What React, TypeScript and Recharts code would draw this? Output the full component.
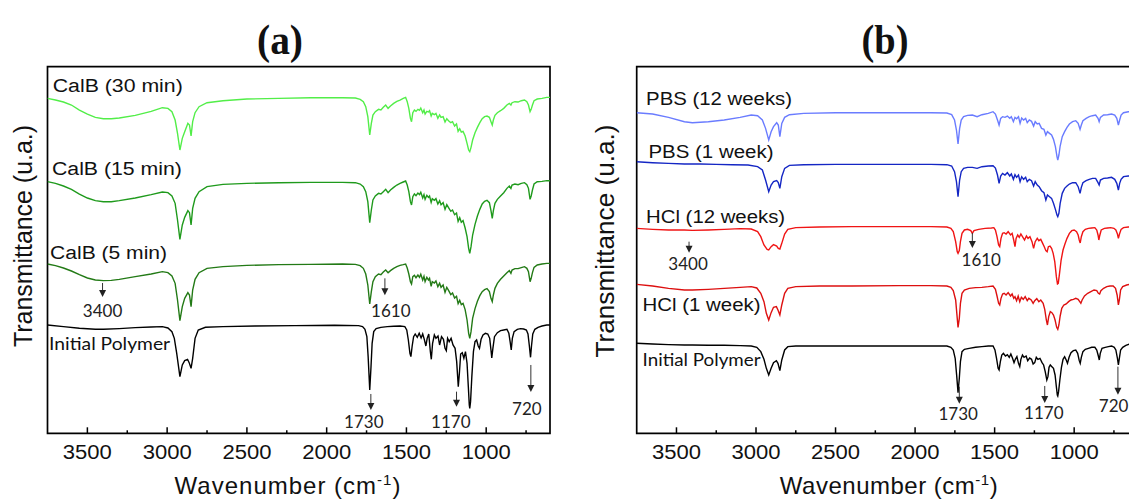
import React from "react";
import { LineChart, Line, XAxis, YAxis, ReferenceArea, ReferenceDot } from "recharts";

type Pt = [number, number];

// ---------- DATA (wavenumber cm-1, transmittance in arbitrary stacked units) ----------
const calb30: Pt[] = [[3750,1005],[3700,1000],[3650,994],[3600,985],[3550,970],[3500,958],[3450,948],[3400,944],[3350,944],[3300,946],[3200,954],[3100,966],[3030,977],[2995,975],[2970,965],[2950,940],[2935,900],[2920,850],[2905,885],[2890,905],[2870,930],[2860,925],[2850,892],[2840,935],[2825,962],[2800,980],[2750,992],[2650,998],[2500,1003],[2300,1005],[2100,1007],[1900,1007],[1820,1006],[1790,1002],[1770,995],[1755,980],[1742,950],[1730,895],[1720,930],[1710,955],[1695,965],[1675,972],[1660,970],[1645,978],[1630,985],[1615,975],[1600,982],[1580,990],[1560,996],[1540,1000],[1520,1005],[1505,1008],[1495,995],[1485,975],[1475,945],[1468,935],[1460,962],[1450,970],[1440,966],[1428,972],[1418,969],[1410,976],[1398,962],[1390,970],[1383,958],[1372,966],[1362,964],[1355,968],[1345,952],[1338,960],[1325,956],[1315,960],[1303,945],[1292,955],[1283,948],[1270,950],[1258,934],[1247,944],[1236,938],[1222,932],[1211,935],[1198,922],[1186,928],[1176,906],[1166,914],[1156,904],[1145,906],[1132,892],[1120,870],[1110,850],[1103,845],[1095,858],[1085,880],[1070,902],[1055,918],[1040,932],[1025,944],[1010,950],[995,952],[980,948],[970,935],[962,925],[955,940],[945,954],[930,962],[910,968],[890,975],[870,985],[855,990],[845,985],[838,992],[820,995],[800,994],[780,998],[760,1000],[745,995],[735,985],[725,965],[718,972],[710,985],[700,998],[680,1003],[650,1005],[620,1008],[600,1008]];

const calb15: Pt[] = [[3750,755],[3700,750],[3650,742],[3600,732],[3550,718],[3500,706],[3450,698],[3400,695],[3350,695],[3300,698],[3200,706],[3100,716],[3030,724],[2995,722],[2970,712],[2950,690],[2935,640],[2920,582],[2905,625],[2890,648],[2870,668],[2860,662],[2850,625],[2840,675],[2825,705],[2800,725],[2750,740],[2650,747],[2500,750],[2300,752],[2100,753],[1900,753],[1820,752],[1790,748],[1770,740],[1755,725],[1742,695],[1730,632],[1720,670],[1710,700],[1695,712],[1675,720],[1660,718],[1645,725],[1630,732],[1615,722],[1600,730],[1580,738],[1560,745],[1540,750],[1520,754],[1505,757],[1495,745],[1485,725],[1475,695],[1468,685],[1460,710],[1450,718],[1440,713],[1428,721],[1418,716],[1410,723],[1398,706],[1390,716],[1383,702],[1372,714],[1362,708],[1355,712],[1345,693],[1338,704],[1325,699],[1315,704],[1303,688],[1292,698],[1283,686],[1270,692],[1258,672],[1247,686],[1236,677],[1222,666],[1211,670],[1198,656],[1186,661],[1176,636],[1166,647],[1156,633],[1145,638],[1132,616],[1120,590],[1110,555],[1103,540],[1095,560],[1085,595],[1070,627],[1055,652],[1040,672],[1025,688],[1010,696],[995,699],[980,692],[970,668],[962,645],[955,668],[945,690],[930,702],[910,712],[890,722],[870,735],[855,742],[845,735],[838,745],[820,748],[800,746],[780,750],[760,752],[745,746],[735,735],[725,702],[718,712],[710,730],[700,748],[680,755],[650,756],[620,758],[600,758]];

const calb5: Pt[] = [[3750,508],[3700,503],[3650,496],[3600,487],[3550,476],[3500,466],[3450,460],[3400,458],[3350,459],[3300,462],[3200,470],[3100,478],[3030,485],[2995,482],[2970,472],[2950,450],[2935,400],[2920,338],[2905,380],[2890,405],[2870,422],[2860,415],[2850,380],[2840,430],[2825,462],[2800,482],[2750,495],[2650,500],[2500,504],[2300,506],[2100,507],[1900,508],[1820,507],[1790,503],[1770,495],[1755,478],[1742,445],[1730,388],[1720,425],[1710,455],[1695,470],[1675,478],[1660,476],[1645,484],[1630,490],[1615,482],[1600,488],[1580,495],[1560,500],[1540,504],[1520,506],[1505,508],[1495,496],[1485,478],[1475,455],[1468,448],[1460,470],[1450,474],[1440,467],[1428,475],[1418,468],[1410,477],[1398,460],[1390,471],[1383,455],[1372,468],[1362,460],[1355,465],[1345,441],[1338,455],[1325,451],[1315,457],[1303,440],[1292,450],[1283,438],[1270,445],[1258,423],[1247,438],[1236,429],[1222,416],[1211,421],[1198,406],[1186,411],[1176,389],[1166,399],[1156,386],[1145,390],[1132,371],[1120,340],[1110,300],[1103,285],[1095,305],[1085,345],[1070,374],[1055,396],[1040,413],[1025,425],[1010,431],[995,434],[980,425],[970,405],[962,395],[955,415],[945,435],[930,450],[910,462],[890,472],[870,482],[855,488],[845,480],[838,490],[820,494],[800,494],[780,497],[760,500],[745,495],[735,485],[725,455],[718,465],[710,482],[700,498],[680,505],[650,508],[620,510],[600,510]];

const initialA: Pt[] = [[3750,325],[3650,320],[3550,315],[3450,312],[3400,312],[3300,314],[3200,317],[3100,319],[3030,320],[2995,316],[2970,305],[2955,285],[2940,240],[2920,170],[2905,205],[2890,218],[2872,222],[2862,212],[2850,195],[2840,225],[2825,285],[2805,310],[2760,318],[2650,320],[2450,322],[2200,323],[1950,324],[1800,323],[1775,320],[1760,312],[1748,290],[1740,230],[1730,130],[1722,200],[1715,270],[1705,305],[1690,314],[1660,318],[1620,320],[1580,321],[1540,322],[1510,320],[1498,310],[1488,280],[1478,240],[1472,230],[1464,262],[1455,290],[1445,298],[1432,288],[1420,300],[1408,286],[1398,298],[1388,282],[1378,262],[1370,285],[1360,298],[1350,245],[1344,222],[1336,270],[1325,295],[1315,285],[1302,292],[1292,265],[1280,290],[1268,282],[1258,255],[1250,248],[1242,285],[1232,275],[1220,285],[1208,265],[1195,255],[1185,215],[1175,140],[1168,180],[1160,238],[1150,242],[1140,225],[1130,245],[1120,210],[1112,140],[1106,85],[1103,75],[1098,95],[1090,170],[1080,245],[1070,275],[1060,280],[1050,262],[1042,255],[1032,282],[1020,295],[1005,300],[990,298],[978,285],[970,250],[965,226],[958,255],[948,290],[930,302],[910,308],[890,310],[870,312],[858,300],[850,275],[843,250],[836,285],[825,305],[805,312],[785,314],[765,313],[748,310],[738,298],[730,265],[722,228],[716,262],[708,298],[695,312],[675,318],[650,322],[620,325],[600,325]];

const pbs12: Pt[] = [[3750,962],[3650,958],[3550,948],[3450,935],[3400,932],[3300,935],[3200,940],[3100,948],[3030,955],[2990,953],[2960,940],[2940,915],[2920,880],[2905,905],[2890,920],[2870,932],[2860,925],[2850,890],[2838,930],[2820,948],[2790,956],[2700,960],[2500,962],[2200,962],[1900,962],[1800,961],[1770,956],[1752,940],[1740,910],[1730,868],[1720,915],[1710,940],[1695,950],[1670,954],[1640,955],[1610,950],[1580,956],[1540,960],[1510,965],[1495,958],[1482,940],[1472,925],[1462,945],[1450,950],[1435,948],[1420,952],[1405,945],[1395,950],[1382,935],[1372,948],[1362,944],[1350,950],[1340,930],[1330,946],[1318,940],[1305,945],[1295,932],[1282,940],[1268,936],[1255,922],[1245,935],[1232,928],[1220,930],[1205,915],[1190,912],[1178,895],[1168,905],[1155,900],[1142,895],[1130,882],[1118,860],[1108,830],[1103,820],[1096,835],[1088,862],[1075,890],[1060,905],[1045,918],[1030,928],[1010,935],[990,938],[975,930],[963,912],[955,925],[945,938],[925,945],[905,950],[885,953],[865,955],[850,945],[843,935],[835,948],[815,955],[790,956],[765,958],[745,955],[732,945],[722,925],[714,940],[705,955],[690,962],[660,965],[630,965],[600,965]];

const pbs1: Pt[] = [[3750,815],[3650,812],[3550,810],[3450,808],[3350,808],[3250,807],[3150,806],[3050,805],[2990,800],[2960,790],[2940,760],[2920,725],[2905,745],[2890,755],[2870,758],[2860,752],[2850,735],[2838,770],[2820,795],[2790,804],[2700,806],[2500,807],[2200,807],[1900,807],[1800,806],[1770,802],[1752,785],[1740,755],[1730,710],[1720,760],[1710,785],[1695,795],[1670,798],[1640,798],[1610,795],[1580,800],[1540,802],[1510,803],[1495,796],[1482,775],[1472,750],[1462,772],[1450,780],[1435,775],[1420,782],[1405,772],[1395,778],[1382,762],[1372,776],[1362,768],[1350,775],[1340,755],[1330,770],[1318,762],[1305,768],[1295,755],[1282,762],[1268,758],[1255,742],[1245,755],[1232,745],[1220,740],[1205,728],[1190,722],[1178,700],[1168,715],[1155,710],[1142,705],[1130,690],[1118,672],[1108,655],[1103,650],[1096,660],[1088,690],[1075,720],[1060,735],[1045,742],[1030,748],[1010,752],[990,752],[975,740],[963,720],[955,738],[945,752],[925,758],[905,762],[885,765],[865,765],[850,752],[843,745],[835,760],[815,765],[790,766],[765,768],[745,762],[732,750],[722,730],[714,750],[705,762],[690,770],[660,772],[630,772],[600,772]];

const hcl12: Pt[] = [[3750,615],[3650,612],[3550,610],[3450,610],[3400,609],[3300,610],[3200,612],[3100,614],[3030,613],[2990,605],[2970,590],[2950,565],[2930,552],[2920,550],[2905,560],[2890,566],[2870,562],[2860,555],[2850,553],[2838,570],[2820,598],[2800,612],[2750,617],[2600,619],[2400,620],[2100,620],[1900,620],[1800,619],[1775,615],[1760,605],[1745,575],[1735,545],[1730,540],[1722,548],[1715,575],[1705,600],[1690,610],[1670,612],[1650,608],[1640,600],[1630,608],[1600,612],[1560,615],[1520,616],[1505,617],[1495,610],[1485,590],[1475,565],[1468,560],[1460,585],[1450,600],[1440,602],[1428,598],[1415,605],[1400,595],[1390,600],[1380,580],[1372,560],[1365,585],[1355,595],[1345,588],[1335,598],[1325,590],[1312,580],[1300,592],[1290,585],[1278,590],[1265,575],[1255,555],[1245,575],[1232,585],[1222,578],[1210,582],[1198,570],[1188,560],[1178,548],[1170,545],[1162,560],[1152,562],[1142,555],[1132,540],[1122,515],[1112,470],[1105,448],[1100,450],[1092,480],[1082,520],[1070,550],[1058,568],[1045,585],[1030,600],[1015,608],[1000,610],[985,605],[975,595],[968,580],[962,571],[955,590],[945,605],[930,612],[910,615],[890,616],[870,617],[858,610],[850,595],[845,580],[840,592],[830,610],[810,615],[790,616],[770,617],[750,615],[738,610],[728,598],[722,585],[715,598],[705,612],[690,617],[660,619],[630,620],[600,620]];

const hcl1: Pt[] = [[3750,447],[3650,442],[3550,435],[3450,430],[3400,430],[3300,432],[3200,435],[3100,438],[3030,440],[2995,436],[2970,420],[2950,395],[2935,360],[2920,340],[2905,362],[2890,378],[2872,380],[2862,370],[2850,355],[2838,385],[2820,420],[2800,435],[2750,440],[2600,442],[2400,442],[2100,443],[1900,443],[1800,442],[1775,438],[1760,428],[1745,400],[1735,345],[1730,318],[1722,345],[1715,390],[1705,420],[1690,430],[1660,435],[1620,437],[1580,438],[1540,440],[1510,442],[1495,432],[1485,412],[1475,390],[1468,385],[1460,405],[1450,418],[1440,420],[1428,415],[1415,422],[1400,412],[1390,418],[1380,405],[1372,410],[1362,398],[1352,412],[1342,395],[1332,408],[1320,402],[1308,410],[1295,398],[1285,405],[1270,400],[1258,390],[1248,398],[1235,404],[1222,395],[1210,400],[1195,390],[1185,372],[1175,340],[1168,325],[1160,350],[1150,365],[1140,362],[1130,355],[1120,340],[1110,318],[1103,312],[1096,325],[1088,352],[1078,375],[1065,385],[1050,388],[1035,395],[1020,400],[1005,402],[990,405],[975,402],[965,395],[958,390],[950,400],[935,412],[915,420],[895,425],[875,430],[858,428],[848,420],[840,418],[832,428],[815,435],[795,440],[775,442],[755,442],[740,435],[730,415],[722,385],[716,400],[708,430],[695,440],[670,445],[640,448],[600,450]];

const initialB: Pt[] = [[3750,270],[3650,268],[3550,266],[3450,265],[3400,265],[3300,264],[3200,264],[3100,263],[3030,262],[2995,258],[2970,245],[2950,222],[2935,195],[2920,175],[2905,195],[2890,212],[2872,218],[2862,210],[2850,188],[2838,220],[2820,250],[2800,260],[2750,262],[2600,262],[2400,262],[2100,262],[1900,262],[1800,262],[1775,258],[1760,250],[1748,225],[1738,170],[1730,122],[1722,165],[1715,215],[1705,245],[1690,252],[1660,255],[1620,258],[1580,260],[1540,262],[1510,262],[1498,250],[1488,225],[1478,195],[1472,190],[1464,215],[1455,235],[1445,240],[1432,232],[1420,236],[1408,228],[1398,238],[1388,226],[1378,212],[1370,222],[1360,230],[1350,210],[1342,200],[1335,222],[1325,235],[1315,228],[1302,232],[1292,218],[1280,226],[1268,222],[1258,208],[1248,212],[1238,228],[1228,222],[1215,225],[1202,212],[1192,205],[1182,185],[1172,160],[1165,170],[1158,198],[1150,205],[1140,200],[1130,195],[1120,175],[1112,140],[1106,115],[1103,112],[1098,125],[1090,160],[1080,198],[1070,222],[1060,230],[1050,220],[1042,210],[1032,228],[1020,242],[1005,248],[990,250],[978,240],[968,218],[962,210],[955,228],[945,245],[930,252],[910,255],[890,258],[870,258],[858,250],[848,232],[842,220],[836,240],[825,255],[805,258],[785,260],[765,262],[748,258],[738,250],[728,225],[722,205],[716,225],[708,250],[695,258],[675,264],[650,268],[620,270],[600,270]];

const majorTicks = [3500, 3000, 2500, 2000, 1500, 1000];
const minorTicks = [3250, 2750, 2250, 1750, 1250, 750];

// series labels: text, anchor wavenumber, vertical centre (data units)
const labelsA = [
  { text: "CalB (30 min)", wn: 3717, v: 1042, len: 130 },
  { text: "CalB (15 min)", wn: 3722, v: 793, len: 130 },
  { text: "CalB (5 min)", wn: 3734, v: 542, len: 117 },
  { text: "Initial Polymer", wn: 3740, v: 268, len: 121, alt: true },
];
const labelsB = [
  { text: "PBS (12 weeks)", wn: 3691, v: 1002, len: 146 },
  { text: "PBS (1 week)", wn: 3676, v: 845, len: 125 },
  { text: "HCl (12 weeks)", wn: 3691, v: 650, len: 139 },
  { text: "HCl (1 week)", wn: 3713, v: 385, len: 118 },
  { text: "Initial Polymer", wn: 3713, v: 220, len: 118, alt: true },
];

// peak arrows: wavenumber, top of arrow (data units), length in px
const arrowsA = [
  { wn: 3405, v: 451, len: 14 },
  { wn: 1635, v: 465, len: 17 },
  { wn: 1723, v: 118, len: 16 },
  { wn: 1186, v: 125, len: 15 },
  { wn: 720, v: 205, len: 27 },
];
const peaksA = [
  { text: "3400", wn: 3405, v: 367 },
  { text: "1610", wn: 1598, v: 368 },
  { text: "1730", wn: 1767, v: 35 },
  { text: "1170", wn: 1222, v: 35 },
  { text: "720", wn: 745, v: 75 },
];
const arrowsB = [
  { wn: 3421, v: 575, len: 11 },
  { wn: 1640, v: 601, len: 15 },
  { wn: 1722, v: 140, len: 17 },
  { wn: 1185, v: 142, len: 17 },
  { wn: 725, v: 200, len: 28 },
];
const peaksB = [
  { text: "3400", wn: 3427, v: 508 },
  { text: "1610", wn: 1584, v: 522 },
  { text: "1730", wn: 1729, v: 60 },
  { text: "1170", wn: 1191, v: 61 },
  { text: "720", wn: 752, v: 82 },
];

const seriesA = [
  { pts: calb30, color: "#52ee48" },
  { pts: calb15, color: "#1f9a1c" },
  { pts: calb5, color: "#237a16" },
  { pts: initialA, color: "#000000" },
];
const seriesB = [
  { pts: pbs12, color: "#6a7cff" },
  { pts: pbs1, color: "#1426c4" },
  { pts: hcl12, color: "#f01414" },
  { pts: hcl1, color: "#dd1010" },
  { pts: initialB, color: "#000000" },
];

const toRows = (pts: Pt[]) => pts.map(([wn, v]) => ({ wn, v }));
const allTicks = [...majorTicks, ...minorTicks].sort((a, b) => b - a);

const SANS = "'Liberation Sans', Arial, sans-serif";
const HUMAN = "Lato, 'Open Sans', sans-serif";

const AxisTick = (props: any) => {
  const { x, y, payload } = props;
  const major = majorTicks.includes(payload.value);
  return (
    <g>
      <line x1={x} x2={x} y1={y} y2={y - (major ? 6 : 3)} stroke="#000" strokeWidth={1.5} />
      {major && (
        <text x={x} y={y + 26} textAnchor="middle" fontFamily={SANS} fontSize={20} fill="#111"
          textLength={49} lengthAdjust="spacingAndGlyphs">{payload.value}</text>
      )}
    </g>
  );
};

function Panel(props: any) {
  const { series, labels, arrows, peaks, ml, mr } = props;
  return (
    <LineChart width={600} height={499} margin={{ top: 66.7, right: mr, bottom: 64.7, left: ml }}>
      <XAxis type="number" dataKey="wn" domain={[600, 3750]} reversed allowDataOverflow
        ticks={allTicks} interval={0} tick={AxisTick} tickLine={false} axisLine={false}
        tickSize={0} tickMargin={0} height={1} />
      <YAxis hide type="number" domain={[0, 1100]} allowDataOverflow />
      <ReferenceArea x1={600} x2={3750} y1={0} y2={1100} fill="none" fillOpacity={0}
        stroke="#000" strokeWidth={1.7} ifOverflow="visible" />
      {series.map((s: any, i: number) => (
        <Line key={i} data={toRows(s.pts)} dataKey="v" type="linear" stroke={s.color}
          strokeWidth={1.4} dot={false} activeDot={false} isAnimationActive={false} />
      ))}
      {labels.map((l: any, i: number) => (
        <ReferenceDot key={"l" + i} x={l.wn} y={l.v} r={0} ifOverflow="visible"
          shape={(p: any) => (
            <text x={p.cx} y={p.cy} dominantBaseline="central" fontFamily={l.alt ? HUMAN : SANS}
              fontSize={l.alt ? 17 : 18} fill="#111" textLength={l.len} lengthAdjust="spacingAndGlyphs">{l.text}</text>
          )} />
      ))}
      {arrows.map((a: any, i: number) => (
        <ReferenceDot key={"a" + i} x={a.wn} y={a.v} r={0} ifOverflow="visible"
          shape={(p: any) => (
            <g>
              <line x1={p.cx} x2={p.cx} y1={p.cy} y2={p.cy + a.len - 6} stroke="#333" strokeWidth={1} />
              <path d={`M${p.cx - 3.5},${p.cy + a.len - 7} L${p.cx + 3.5},${p.cy + a.len - 7} L${p.cx},${p.cy + a.len} Z`} fill="#222" />
            </g>
          )} />
      ))}
      {peaks.map((k: any, i: number) => (
        <ReferenceDot key={"k" + i} x={k.wn} y={k.v} r={0} ifOverflow="visible"
          shape={(p: any) => (
            <text x={p.cx} y={p.cy} dominantBaseline="central" textAnchor="middle" fontFamily={HUMAN}
              fontSize={17} fill="#222">{k.text}</text>
          )} />
      ))}
    </LineChart>
  );
}

export default function App() {
  return (
    <div style={{ position: "absolute", left: 0, top: 0, width: 1129, height: 499, overflow: "hidden", background: "#fff" }}>
      <div style={{ position: "absolute", left: 0, top: 0 }}>
        <Panel series={seriesA} labels={labelsA} arrows={arrowsA} peaks={peaksA} ml={47.5} mr={50} />
      </div>
      <div style={{ position: "absolute", left: 589, top: 0 }}>
        <Panel series={seriesB} labels={labelsB} arrows={arrowsB} peaks={peaksB} ml={47.7} mr={51.2} />
      </div>
      <svg width={1129} height={499} style={{ position: "absolute", left: 0, top: 0, pointerEvents: "none" }}>
        <text x={280} y={54} textAnchor="middle" fontFamily="'Liberation Serif', 'Times New Roman', serif"
          fontWeight="bold" fontSize={42} textLength={46} lengthAdjust="spacingAndGlyphs" fill="#111">(a)</text>
        <text x={885} y={54} textAnchor="middle" fontFamily="'Liberation Serif', 'Times New Roman', serif"
          fontWeight="bold" fontSize={42} textLength={47} lengthAdjust="spacingAndGlyphs" fill="#111">(b)</text>
        <text transform="translate(32,236) rotate(-90)" textAnchor="middle" fontFamily={SANS} fontSize={25}
          textLength={222} lengthAdjust="spacingAndGlyphs" fill="#111">Transmittance (u.a.)</text>
        <text transform="translate(614,241) rotate(-90)" textAnchor="middle" fontFamily={SANS} fontSize={25}
          textLength={233} lengthAdjust="spacingAndGlyphs" fill="#111">Transmittance (u.a.)</text>
        <text x={288} y={494} textAnchor="middle" fontFamily={SANS} fontSize={24} letterSpacing={1} fill="#111">
          Wavenumber (cm<tspan dy={-9} fontSize={15}>-1</tspan><tspan dy={9} fontSize={24}>)</tspan>
        </text>
        <text x={889} y={494} textAnchor="middle" fontFamily={SANS} fontSize={24} letterSpacing={0.5} fill="#111">
          Wavenumber (cm<tspan dy={-9} fontSize={15}>-1</tspan><tspan dy={9} fontSize={24}>)</tspan>
        </text>
      </svg>
    </div>
  );
}
